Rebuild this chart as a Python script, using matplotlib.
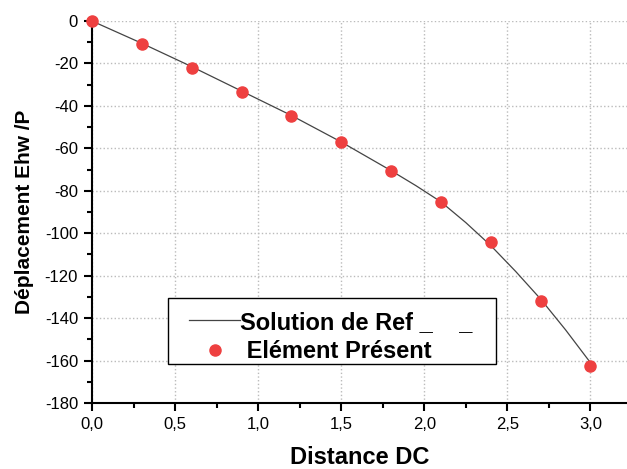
import matplotlib.pyplot as plt
from matplotlib.patches import Rectangle

plt.rcParams["font.family"] = ["Liberation Sans", "DejaVu Sans"]
plt.rcParams["axes.unicode_minus"] = False

# reference solution (line)
ref_x = [0.0, 0.3, 0.6, 0.9, 1.2, 1.5, 1.8, 1.95, 2.1, 2.25, 2.4, 2.55, 2.7, 2.85, 3.0]
ref_y = [0.0, -10.5, -21.5, -33.0, -44.5, -57.0, -70.5, -77.6, -85.2, -95.0, -105.8, -118.0, -131.0, -145.5, -161.0]

# present element (points)
el_x = [0.0, 0.3, 0.6, 0.9, 1.2, 1.5, 1.8, 2.1, 2.4, 2.7, 3.0]
el_y = [0.0, -10.9, -22.2, -33.5, -44.9, -57.2, -70.9, -85.5, -103.9, -131.7, -162.5]

xticks = [0.0, 0.5, 1.0, 1.5, 2.0, 2.5, 3.0]
xlabels = ["0,0", "0,5", "1,0", "1,5", "2,0", "2,5", "3,0"]
yticks = list(range(-180, 1, 20))

fig = plt.figure(figsize=(6.27, 4.69), dpi=100)
ax = fig.add_axes([0.1467, 0.1407, 0.8533, 0.8145])

ax.plot(ref_x, ref_y, color="#444444", lw=0.9, label="Solution de Ref _    _", zorder=3)
ax.plot(el_x, el_y, ls="none", marker="o", ms=8, color="#EE4040",
        label=" Elément Présent", clip_on=False, zorder=4)

ax.set_xlim(0, 3.22)
ax.set_ylim(-180, 0)
ax.set_xticks(xticks)
ax.set_xticklabels(xlabels)
ax.set_yticks(yticks)
ax.set_xticks([0.25, 0.75, 1.25, 1.75, 2.25, 2.75], minor=True)
ax.set_yticks(list(range(-170, 0, 20)), minor=True)
ax.tick_params(which="major", direction="out", length=6, width=1.5, labelsize=12, pad=4)
ax.tick_params(which="minor", direction="out", length=3.5, width=1.5)

ax.spines["top"].set_visible(False)
ax.spines["right"].set_visible(False)
ax.spines["left"].set_linewidth(1.5)
ax.spines["bottom"].set_linewidth(1.5)

ax.grid(True, which="major", color="#BBBBBB", ls=":", lw=1.0)
ax.set_axisbelow(True)

ax.set_xlabel("Distance DC", fontsize=17, fontweight="bold", labelpad=10)
ax.set_ylabel("Déplacement Ehw /P", fontsize=15, fontweight="bold", labelpad=8)

# legend frame drawn separately so its size can follow the reference
ax.add_patch(Rectangle((0.1423, 0.1024), 0.6124, 0.1732, transform=ax.transAxes,
                       facecolor="white", edgecolor="black", lw=1.0, zorder=5))
leg = ax.legend(loc="upper left", bbox_to_anchor=(0.1816, 0.242), prop={"weight": "bold", "size": 17},
                frameon=False, borderpad=0, labelspacing=0.28, handlelength=2.15,
                handletextpad=0.0, borderaxespad=0)
leg.set_zorder(6)

plt.savefig("out.png", dpi=100)
